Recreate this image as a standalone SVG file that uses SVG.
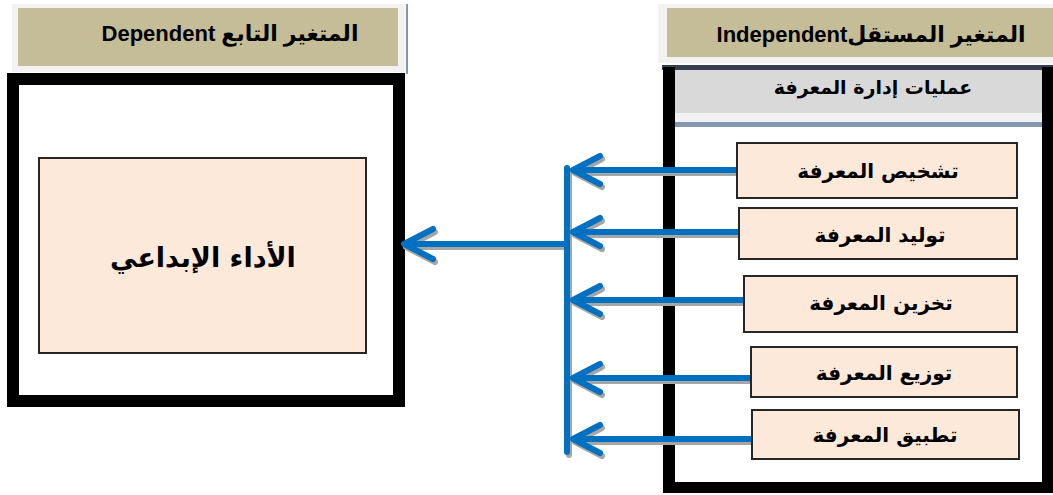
<svg xmlns="http://www.w3.org/2000/svg" xmlns:xlink="http://www.w3.org/1999/xlink" width="1053" height="495" viewBox="0 0 1053 495">
<style>
.hdrbg{fill:#f2f2f2}
.khaki{fill:#c4bd97}
.peach{fill:#fde9d9;stroke:#262626;stroke-width:2}
.t{font-family:"Liberation Sans","DejaVu Sans",sans-serif;font-weight:bold;fill:#000;text-anchor:middle}
.ar{font-family:"DejaVu Sans","Liberation Sans",sans-serif;font-weight:bold;fill:#000;text-anchor:middle}
.lbl{font-size:20px}
.blk{fill:#000}
.arr{fill:none;stroke:#0070c0;stroke-width:6;stroke-linecap:round;stroke-linejoin:round}
.shd{fill:none;stroke:#a6a6a6;stroke-width:6;stroke-linecap:round;stroke-linejoin:round}
</style>
<defs>
<g id="arrows">
<path d="M567,168 V452"/>
<path d="M566,244 H406 M433,229 L404,244 L433,259"/>
<path d="M737,170 H573 M600,156 L573,170 L600,184"/>
<path d="M739,232 H573 M600,218 L573,232 L600,246"/>
<path d="M744,300 H573 M600,286 L573,300 L600,314"/>
<path d="M751,378 H573 M600,364 L573,378 L600,392"/>
<path d="M752,439 H573 M600,425 L573,439 L600,453"/>
</g>
</defs>

<g id="dependent-header">
<rect class="hdrbg" x="12" y="4" width="393" height="68"/>
<rect class="khaki" x="18" y="8" width="380" height="58"/>
<rect x="406" y="4" width="2" height="70" fill="#8497b0"/>
<text class="t" x="230" y="41" font-size="22" direction="rtl">المتغير التابع Dependent</text>
</g>

<g id="dependent-frame">
<rect x="13" y="79" width="386" height="322" fill="#fff" stroke="#000" stroke-width="12"/>
</g>

<g id="creative-performance">
<rect class="peach" x="39" y="158" width="327" height="195"/>
<text class="ar" x="203" y="267" font-size="27">الأداء الإبداعي</text>
</g>

<g id="independent-header">
<rect class="hdrbg" x="658" y="4" width="395" height="59"/>
<rect class="khaki" x="667" y="8" width="386" height="49"/>
<text class="t" x="871" y="42" font-size="22" direction="rtl">المتغير المستقلIndependent</text>
</g>

<g id="independent-frame">
<rect x="675" y="70" width="367" height="412" fill="#fff"/>
<rect x="662" y="65" width="391" height="5" fill="#333f50"/>
<rect x="675" y="70" width="367" height="43" fill="#d9d9d9"/>
<rect x="675" y="113" width="367" height="9" fill="#f2f2f2"/>
<rect x="675" y="122" width="367" height="5" fill="#8497b0"/>
<rect class="blk" x="663" y="67" width="12" height="426"/>
<rect class="blk" x="1042" y="67" width="11" height="426"/>
<rect class="blk" x="663" y="482" width="390" height="11"/>
<text class="ar" x="873" y="94" font-size="19">عمليات إدارة المعرفة</text>
</g>

<g id="connectors">
<use xlink:href="#arrows" class="shd" transform="translate(2,3)"/>
<use xlink:href="#arrows" class="arr"/>
</g>

<g id="diagnosis">
<rect class="peach" x="737" y="143" width="280" height="55"/>
<text class="ar lbl" x="878" y="178">تشخيص المعرفة</text>
</g>
<g id="generation">
<rect class="peach" x="739" y="208" width="278" height="51"/>
<text class="ar lbl" x="880" y="242">توليد المعرفة</text>
</g>
<g id="storage">
<rect class="peach" x="744" y="276" width="273" height="56"/>
<text class="ar lbl" x="881" y="310">تخزين المعرفة</text>
</g>
<g id="distribution">
<rect class="peach" x="751" y="347" width="266" height="50"/>
<text class="ar lbl" x="884" y="380">توزيع المعرفة</text>
</g>
<g id="application">
<rect class="peach" x="752" y="410" width="267" height="49"/>
<text class="ar lbl" x="885" y="442">تطبيق المعرفة</text>
</g>
</svg>
